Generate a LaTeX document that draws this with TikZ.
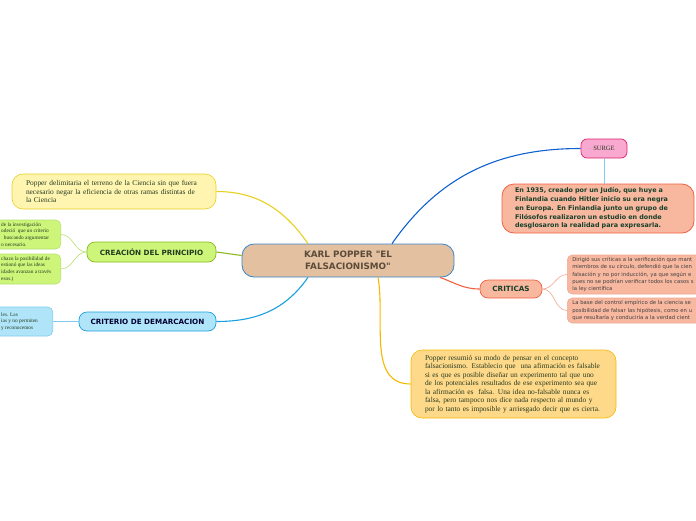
\documentclass[tikz,border=0pt]{standalone}
\usepackage{fontspec}
\setmainfont{Liberation Serif}
\newfontfamily\sansfam{DejaVu Sans}
\usetikzlibrary{positioning}

\definecolor{tanfill}{HTML}{E3C0A0}
\definecolor{mainblue}{HTML}{3A86C8}
\definecolor{maintext}{HTML}{5B4B3A}
\definecolor{pinkfill}{HTML}{F9A8D0}
\definecolor{pinkdraw}{HTML}{E0206A}
\definecolor{salmonfill}{HTML}{F8B8A0}
\definecolor{salmondraw}{HTML}{F06040}
\definecolor{salmonlight}{HTML}{F0A890}
\definecolor{orangefill}{HTML}{FFD98A}
\definecolor{orangedraw}{HTML}{F5B800}
\definecolor{yellowfill}{HTML}{FFF5B0}
\definecolor{yellowdraw}{HTML}{E8D020}
\definecolor{greenfill}{HTML}{CCF57A}
\definecolor{greendraw}{HTML}{8CB820}
\definecolor{greenlight}{HTML}{B8E070}
\definecolor{bluefill}{HTML}{B0E4F8}
\definecolor{bluedraw}{HTML}{1AA0E0}
\definecolor{bluelight}{HTML}{80CCF0}
\definecolor{deepblue}{HTML}{1060D0}
\definecolor{inkgreen}{HTML}{253A20}
\definecolor{darkteal}{HTML}{16402A}

\begin{document}
\begin{tikzpicture}[
  x=1pt, y=1pt,
  every node/.style={inner sep=0pt},
  central/.style={
    rectangle, rounded corners=12pt, draw=mainblue, fill=tanfill, line width=0.8pt,
    minimum width=212pt, minimum height=33pt, align=center, text=maintext,
    font=\sansfam\bfseries\fontsize{8.8}{12}\selectfont
  },
  topic/.style={
    rectangle, rounded corners=8pt, line width=0.7pt, minimum height=19pt,
    align=center, font=\sansfam\bfseries\fontsize{7.2}{8.5}\selectfont
  },
  note/.style={
    rectangle, rounded corners=11pt, line width=0.6pt, align=left,
    text=inkgreen, font=\fontsize{7.4}{8.5}\selectfont
  },
  smalltext/.style={align=left, text=inkgreen, font=\fontsize{5.3}{6.7}\selectfont},
  link/.style={line width=1.1pt},
  sublink/.style={line width=0.6pt}
]
\useasboundingbox (0,0) rectangle (696,-520);
\clip (0,0) rectangle (696,-520);

% centre
\node[central] (kp) at (348,-260.5) {KARL POPPER "EL\\FALSACIONISMO"};

% right side
\node[rectangle, rounded corners=6pt, draw=pinkdraw, fill=pinkfill, line width=0.7pt,
  minimum width=46pt, minimum height=19pt, text=inkgreen,
  font=\fontsize{6.5}{7}\selectfont] (surge) at (604,-148.5) {SURGE};
\node[note, draw=salmondraw, fill=salmonfill, rounded corners=12pt, line width=0.8pt,
  minimum width=192pt, minimum height=49pt, text width=166pt, text=darkteal,
  font=\sansfam\bfseries\fontsize{6.4}{8.7}\selectfont] (origen) at (598,-208.5)
  {En 1935, creado por un Judío, que huye a\\Finlandia cuando Hitler inicio su era negra\\en Europa. En Finlandia junto un grupo de\\Filósofos realizaron un estudio en donde\\desglosaron la realidad para expresarla.};

\node[topic, draw=salmondraw, fill=salmonfill, minimum width=62pt, minimum height=18pt,
  text=darkteal] (criticas) at (511,-289) {CRITICAS};
\node[note, draw=salmonlight, fill=salmonfill, rounded corners=5pt, anchor=west,
  minimum height=39pt, text width=175pt, inner xsep=5pt, text=black!75,
  font=\sansfam\fontsize{5.3}{7.3}\selectfont] (crit1) at (567,-274.5)
  {Dirigió sus críticas a la verificación que mant\\miembros de su círculo, defendió que la cien\\falsación y no por inducción, ya que según e\\pues no se podrían verificar todos los casos s\\la ley científica};
\node[note, draw=salmonlight, fill=salmonfill, rounded corners=5pt, anchor=west,
  minimum height=25pt, text width=175pt, inner xsep=5pt, text=black!75,
  font=\sansfam\fontsize{5.3}{7.3}\selectfont] (crit2) at (567,-310.5)
  {La base del control empírico de la ciencia se\\posibilidad de falsar las hipótesis, como en u\\que resultaría y conduciría a la verdad cient};

\node[note, draw=orangedraw, fill=orangefill, minimum width=205pt, minimum height=68pt,
  text width=177pt] (resumen) at (513.5,-384)
  {Popper resumió su modo de pensar en el concepto\\falsacionismo. Establecio que\ \ una afirmación es falsable\\si es que es posible diseñar un experimento tal que uno\\de los potenciales resultados de ese experimento sea que\\la afirmación es\ \ falsa. Una idea no-falsable nunca es\\falsa, pero tampoco nos dice nada respecto al mundo y\\por lo tanto es imposible y arriesgado decir que es cierta.};

% left side
\node[note, draw=yellowdraw, fill=yellowfill, minimum width=204pt, minimum height=35pt,
  text width=176pt] (delimita) at (114,-191.5)
  {Popper delimitaria el terreno de la Ciencia sin que fuera\\necesario negar la eficiencia de otras ramas distintas de\\la Ciencia};

\node[topic, draw=greendraw, fill=greenfill, minimum width=129pt, minimum height=20pt,
  text=inkgreen] (creacion) at (151.5,-252) {CREACIÓN DEL PRINCIPIO};
\node[rectangle, rounded corners=5pt, draw=greenlight, fill=greenfill, line width=0.6pt,
  anchor=east, minimum width=100pt, minimum height=29pt] (gnote1) at (61,-234.5) {};
\node[smalltext, anchor=west] (gtext1) at (1,-234.5)
  {de la investigación\\odeció\ \ que un criterio\\\ \ buscando argumentar\\o necesario.};
\node[rectangle, rounded corners=5pt, draw=greenlight, fill=greenfill, line width=0.6pt,
  anchor=east, minimum width=100pt, minimum height=30pt] (gnote2) at (61,-269) {};
\node[smalltext, anchor=west] (gtext2) at (1,-269)
  {chazo la posibilidad de\\estionó que las ideas\\idades avanzan a través\\esos.)};

\node[topic, draw=bluedraw, fill=bluefill, minimum width=137pt, minimum height=19pt,
  text=black!80!blue] (criterio) at (147.5,-321.5) {CRITERIO DE DEMARCACION};
\node[rectangle, rounded corners=5pt, draw=bluelight, fill=bluefill, line width=0.6pt,
  anchor=east, minimum width=100pt, minimum height=29pt] (bnote) at (53,-321.5) {};
\node[smalltext, anchor=west] (btext) at (1,-321.5)
  {les. Las\\ias y no permiten\\y reconocemos};

% connectors
\draw[link, deepblue] ([xshift=44pt]kp.north) to[out=55,in=180] (surge.west);
\draw[sublink, bluelight] (surge.south) -- (surge.south |- origen.north);
\draw[link, salmondraw] ([xshift=92pt]kp.south) to[out=-20,in=180] (criticas.west);
\draw[sublink, salmonlight] (criticas.east) to[out=0,in=180] (crit1.west);
\draw[sublink, salmonlight] (criticas.east) to[out=0,in=180] (crit2.west);
\draw[link, orangedraw] ([xshift=30pt]kp.south) to[out=-80,in=180] (resumen.west);
\draw[link, yellowdraw] ([xshift=-40pt]kp.north) to[out=125,in=0] (delimita.east);
\draw[link, greendraw] ([yshift=5pt]kp.west) -- (creacion.east);
\draw[sublink, greenlight] (creacion.west) to[out=180,in=0] (gnote1.east);
\draw[sublink, greenlight] (creacion.west) to[out=180,in=0] (gnote2.east);
\draw[link, bluedraw] ([xshift=-40pt]kp.south) to[out=-125,in=0] (criterio.east);
\draw[sublink, bluelight] (criterio.west) -- (bnote.east);
\end{tikzpicture}
\end{document}
